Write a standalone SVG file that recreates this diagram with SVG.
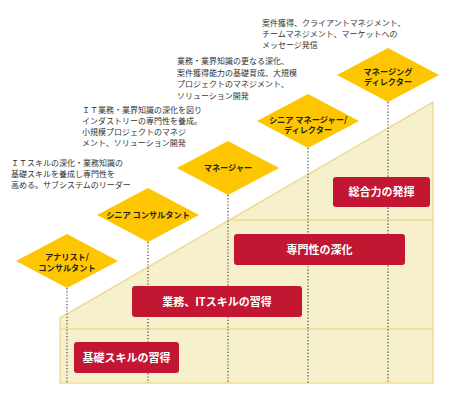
<svg xmlns="http://www.w3.org/2000/svg" width="454" height="402" viewBox="0 0 454 402">
<style>
.desc{font-family:"Noto Sans CJK JP","Noto Sans",sans-serif;font-size:8px;fill:#333}
.dlab{font-family:"Noto Sans CJK JP","Noto Sans",sans-serif;font-size:8.2px;font-weight:bold;fill:#222;text-anchor:middle}
.blab{font-family:"Noto Sans CJK JP","Noto Sans",sans-serif;font-size:11px;font-weight:bold;fill:#fff;text-anchor:middle}
.dia{fill:#fdc600}
.box{fill:#c31632}
.dot{stroke:#555;stroke-width:1.3;stroke-dasharray:1.2 2;fill:none}
.band{stroke:#efdb96;stroke-width:1.5;fill:none}
</style>
<rect width="454" height="402" fill="#fff"/>
<g id="background">
<polygon points="60,383 60,318 433,102 433,383" fill="#f7f0cd" stroke="#efdb96" stroke-width="1.5"/>
<line class="band" x1="60" y1="329" x2="433" y2="329"/>
<line class="band" x1="227" y1="220" x2="433" y2="220"/>
</g>
<g id="connectors">
<line class="dot" x1="67" y1="288" x2="67" y2="383"/>
<line class="dot" x1="148" y1="242" x2="148" y2="383"/>
<line class="dot" x1="228" y1="195" x2="228" y2="383"/>
<line class="dot" x1="308" y1="148" x2="308" y2="383"/>
<line class="dot" x1="388" y1="102" x2="388" y2="383"/>
</g>
<g id="d1">
<polygon class="dia" points="67,234 118,261 67,288 16,261"/>
<text class="dlab" x="67" y="260">アナリスト/</text>
<text class="dlab" x="67" y="270.5">コンサルタント</text>
</g>
<g id="d2">
<polygon class="dia" points="148,188 199,215 148,242 97,215"/>
<text class="dlab" x="148" y="218">シニア コンサルタント</text>
</g>
<g id="d3">
<polygon class="dia" points="228,141 279,168 228,195 177,168"/>
<text class="dlab" x="228" y="171">マネージャー</text>
</g>
<g id="d4">
<polygon class="dia" points="308,94 359,121 308,148 257,121"/>
<text class="dlab" x="308" y="122.5">シニア マネージャー/</text>
<text class="dlab" x="308" y="133">ディレクター</text>
</g>
<g id="d5">
<polygon class="dia" points="388,48 439,75 388,102 337,75"/>
<text class="dlab" x="388" y="74.5">マネージング</text>
<text class="dlab" x="388" y="85">ディレクター</text>
</g>
<g id="b1">
<rect class="box" x="74" y="342" width="105" height="31" rx="3"/>
<text class="blab" x="126.5" y="361.5">基礎スキルの習得</text>
</g>
<g id="b2">
<rect class="box" x="132" y="286" width="170" height="31" rx="3"/>
<text class="blab" x="217" y="305.5">業務、ITスキルの習得</text>
</g>
<g id="b3">
<rect class="box" x="234" y="234" width="171" height="31" rx="3"/>
<text class="blab" x="319.5" y="253.5">専門性の深化</text>
</g>
<g id="b4">
<rect class="box" x="333" y="177" width="97" height="30" rx="3"/>
<text class="blab" x="381.5" y="196">総合力の発揮</text>
</g>
<g id="t2">
<text class="desc" x="11" y="166">ＩＴスキルの深化・業務知識の</text>
<text class="desc" x="11" y="177">基礎スキルを養成し専門性を</text>
<text class="desc" x="11" y="188">高める。サブシステムのリーダー</text>
</g>
<g id="t3">
<text class="desc" x="82" y="113">ＩＴ業務・業界知識の深化を図り</text>
<text class="desc" x="82" y="124">インダストリーの専門性を養成。</text>
<text class="desc" x="82" y="135">小規模プロジェクトのマネジ</text>
<text class="desc" x="82" y="146">メント、ソリューション開発</text>
</g>
<g id="t4">
<text class="desc" x="177" y="64">業務・業界知識の更なる深化、</text>
<text class="desc" x="177" y="75.5">案件獲得能力の基礎育成、大規模</text>
<text class="desc" x="177" y="87">プロジェクトのマネジメント、</text>
<text class="desc" x="177" y="98.5">ソリューション開発</text>
</g>
<g id="t5">
<text class="desc" x="262" y="25.5">案件獲得、クライアントマネジメント、</text>
<text class="desc" x="262" y="37">チームマネジメント、マーケットへの</text>
<text class="desc" x="262" y="48">メッセージ発信</text>
</g>
</svg>
